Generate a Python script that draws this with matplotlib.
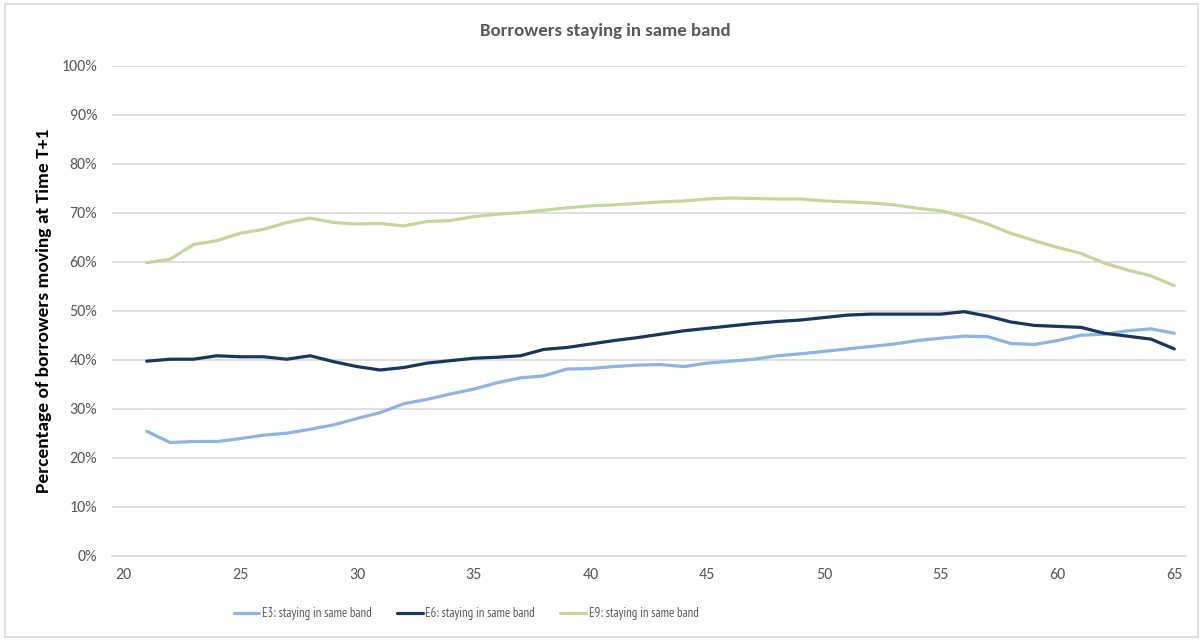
import matplotlib
matplotlib.use("Agg")
import matplotlib.pyplot as plt
from matplotlib.patches import Rectangle
from matplotlib.ticker import PercentFormatter

ages = list(range(21, 66))
e3 = [25.4, 23.1, 23.3, 23.3, 23.9, 24.6, 25.0, 25.8, 26.7, 28.0, 29.2, 31.0, 31.9, 33.0, 34.0,
      35.3, 36.3, 36.7, 38.1, 38.2, 38.6, 38.9, 39.0, 38.6, 39.3, 39.7, 40.1, 40.8, 41.2, 41.7,
      42.2, 42.7, 43.2, 43.9, 44.4, 44.8, 44.7, 43.3, 43.1, 43.9, 45.0, 45.2, 45.9, 46.3, 45.4]
e6 = [39.7, 40.1, 40.1, 40.8, 40.6, 40.6, 40.1, 40.8, 39.6, 38.6, 37.9, 38.4, 39.3, 39.8, 40.3,
      40.5, 40.8, 42.1, 42.5, 43.2, 43.9, 44.5, 45.2, 45.9, 46.4, 46.9, 47.4, 47.8, 48.1, 48.6,
      49.1, 49.3, 49.3, 49.3, 49.3, 49.8, 48.9, 47.7, 47.0, 46.8, 46.6, 45.4, 44.8, 44.2, 42.2]
e9 = [59.8, 60.5, 63.5, 64.3, 65.8, 66.6, 68.0, 68.9, 68.0, 67.7, 67.8, 67.3, 68.2, 68.4, 69.2,
      69.7, 70.0, 70.5, 71.0, 71.4, 71.6, 71.9, 72.2, 72.4, 72.8, 73.0, 72.9, 72.8, 72.8, 72.4,
      72.2, 72.0, 71.6, 70.9, 70.4, 69.2, 67.7, 65.8, 64.3, 62.9, 61.7, 59.7, 58.3, 57.1, 55.1]
series_labels = ["E3: staying in same band", "E6: staying in same band", "E9: staying in same band"]
colors = ["#8DB4E2", "#17375E", "#C4D79B"]
x_ticks = list(range(20, 66, 5))
y_ticks = list(range(0, 101, 10))

plt.rcParams['font.family'] = ['Carlito', 'Lato', 'DejaVu Sans']
W, H = 1203, 641
fig = plt.figure(figsize=(W / 100, H / 100), dpi=100)
ax = fig.add_axes([111.7 / W, 1 - 555.7 / H, (1186 - 111.7) / W, (555.7 - 65.7) / H])

for vals, lab, col in zip([e3, e6, e9], series_labels, colors):
    ax.plot(ages, vals, color=col, lw=2.3, label=lab, solid_capstyle='round', solid_joinstyle='round')

ax.set_xlim(19.5, 65.5)
ax.set_ylim(0, 100)
ax.set_xticks(x_ticks)
ax.set_yticks(y_ticks)
ax.yaxis.set_major_formatter(PercentFormatter(decimals=0))
ax.grid(axis='y', color='#D9D9D9', lw=1.2)
ax.set_axisbelow(True)
for s in ['top', 'right', 'left']:
    ax.spines[s].set_visible(False)
ax.spines['bottom'].set_color('#D9D9D9')
ax.spines['bottom'].set_linewidth(1.2)
ax.tick_params(length=0, labelsize=11.5, colors='#595959')
ax.tick_params(axis='x', pad=9)
ax.tick_params(axis='y', pad=10.5)

ax.set_ylabel("Percentage of borrowers moving at Time T+1", fontsize=14, fontweight='bold',
              color='black', labelpad=6.5)
fig.text(605 / W, 1 - 31 / H, "Borrowers staying in same band", ha='center', va='center',
         fontsize=13.5, fontweight='bold', color='#595959')

fig.legend(loc='center', bbox_to_anchor=(466 / W, 1 - 614 / H), ncol=3, frameon=False,
           prop={'family': ['PT Sans Narrow', 'Carlito'], 'size': 9.2},
           labelcolor='#595959', handlelength=2.0, columnspacing=2.0, handletextpad=0.2)

fig.patches.append(Rectangle((5 / W, 1 - 637 / H), 1193 / W, 633 / H, transform=fig.transFigure,
                             fill=False, edgecolor='#D9D9D9', lw=1.2))

fig.savefig("out.png", dpi=100)
